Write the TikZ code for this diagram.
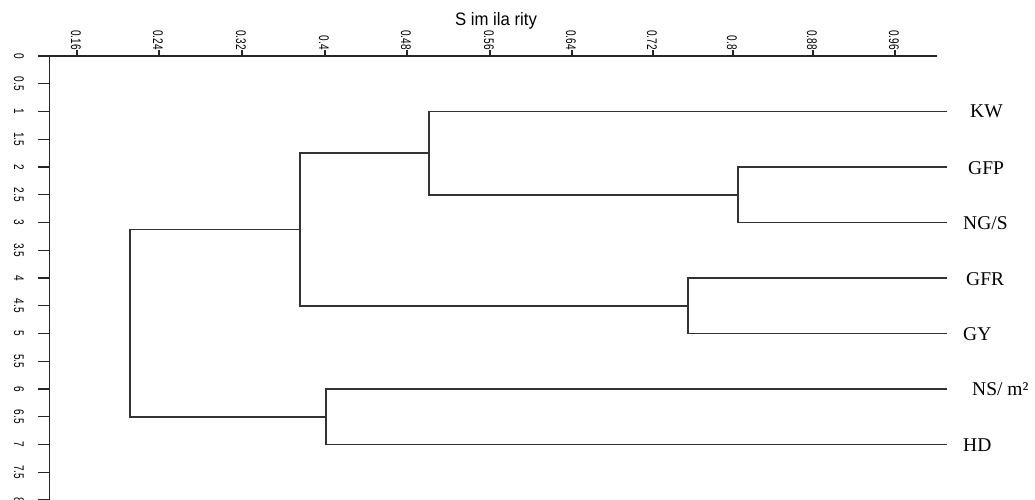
\documentclass[tikz,border=0pt]{standalone}
\usepackage{fontspec}
\setmainfont{Liberation Serif}
\setsansfont{Liberation Sans}
\newcommand\narrowlab[1]{\scalebox{0.72}[1]{\sffamily\fontsize{14}{14}\selectfont #1}}
\tikzset{
  axisline/.style={line width=1.6pt, draw=black!85},
  axtick/.style={line width=1.3pt, draw=black!85},
  branch/.style={line width=1.5pt, draw=black!80},
  leaflabel/.style={anchor=west, inner sep=0pt, font=\fontsize{19.5}{19.5}\selectfont},
  toplab/.style={rotate=-90, anchor=east, inner sep=0pt},
  sidelab/.style={rotate=-90, anchor=north, inner sep=0pt},
}
\begin{document}
\begin{tikzpicture}[x=1pt,y=-1pt]
\useasboundingbox (0,0) rectangle (1035,500);

% axes
\coordinate (ax0) at (38,56);
\coordinate (ax1) at (937,56);
\coordinate (ay0) at (49.5,56);
\coordinate (ay1) at (49.5,502);
\draw[axisline] (ax0) -- (ax1);
\draw[axisline] (ay0) -- (ay1);

% similarity scale
\foreach \x/\v [count=\i] in {77/0.16,159/0.24,242/0.32,325/0.4,407/0.48,490/0.56,572/0.64,653/0.72,733/0.8,813/0.88,895/0.96}{
  \draw[axtick] (\x,56) -- (\x,50.5);
  \node[toplab] (top\i) at (\x-1,50) {\narrowlab{\v}};
}
\node[inner sep=0pt] (title) at (496,21) {\scalebox{0.93}[1]{\sffamily\fontsize{18}{18}\selectfont S im ila rity}};

% vertical scale
\foreach \v [count=\i] in {0,0.5,1,1.5,2,2.5,3,3.5,4,4.5,5,5.5,6,6.5,7,7.5,8}{
  \pgfmathsetmacro\yy{56+55.5*(\i-1)/2}
  \draw[axtick] (38,\yy) -- (49.5,\yy);
  \node[sidelab] (side\i) at (24,\yy) {\narrowlab{\v}};
}

% leaves
\coordinate (kw)  at (947,111.5);
\coordinate (gfp) at (947,167);
\coordinate (ngs) at (947,222.5);
\coordinate (gfr) at (947,278);
\coordinate (gy)  at (947,333.5);
\coordinate (ns)  at (947,389);
\coordinate (hd)  at (947,444.5);

\node[leaflabel] (lkw)  at (970,111.5) {KW};
\node[leaflabel] (lgfp) at (968,168) {GFP};
\node[leaflabel] (lngs) at (963,223.5) {NG/S};
\node[leaflabel] (lgfr) at (966,279) {GFR};
\node[leaflabel] (lgy)  at (963,334.5) {GY};
\node[leaflabel] (lns)  at (972,389) {NS/ m²};
\node[leaflabel] (lhd)  at (963,445.5) {HD};

% joins
\coordinate (j1) at (738,194.75);
\coordinate (j2) at (429,153.1);
\coordinate (j3) at (688,305.75);
\coordinate (j4) at (300,229.4);
\coordinate (j5) at (326,416.75);
\coordinate (root) at (130,323.1);

\draw[branch] (gfp) -| (j1) |- (ngs);
\draw[branch] (kw) -| (j2) |- (j1);
\draw[branch] (gfr) -| (j3) |- (gy);
\draw[branch] (j2) -| (j4) |- (j3);
\draw[branch] (ns) -| (j5) |- (hd);
\draw[branch] (j4) -| (root) |- (j5);
\end{tikzpicture}
\end{document}
